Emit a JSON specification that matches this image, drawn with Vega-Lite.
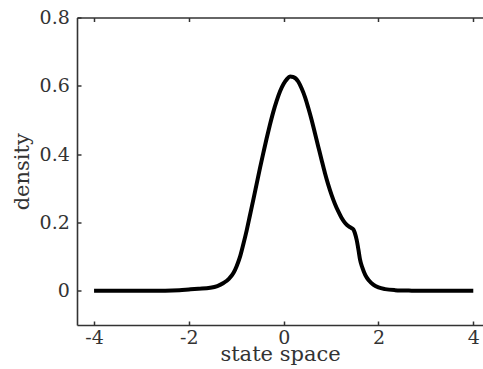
{
  "$schema": "https://vega.github.io/schema/vega-lite/v6.json",
  "autosize": {"type": "none"},
  "padding": {"left": 77, "top": 17.5, "right": 0, "bottom": 44},
  "width": 406,
  "height": 307.5,
  "background": "white",
  "config": {
    "view": {"stroke": null},
    "axis": {
      "grid": false,
      "domainColor": "#333333",
      "domainWidth": 1.6,
      "tickColor": "#333333",
      "tickWidth": 1.5,
      "tickSize": 4,
      "labelFont": "DejaVu Serif",
      "labelFontSize": 19,
      "labelColor": "#333333",
      "titleFont": "DejaVu Serif",
      "titleFontSize": 21,
      "titleFontWeight": "normal",
      "titleColor": "#333333"
    }
  },
  "data": {
    "values": [
      {"x": -4, "y": 0}, {"x": -3, "y": 0}, {"x": -2.5, "y": 0.0005}, {"x": -2.2, "y": 0.002},
      {"x": -2.0, "y": 0.004}, {"x": -1.8, "y": 0.006}, {"x": -1.55, "y": 0.009}, {"x": -1.4, "y": 0.014},
      {"x": -1.27, "y": 0.023}, {"x": -1.15, "y": 0.036}, {"x": -1.06, "y": 0.052}, {"x": -0.99, "y": 0.073},
      {"x": -0.92, "y": 0.1}, {"x": -0.85, "y": 0.137}, {"x": -0.78, "y": 0.177}, {"x": -0.71, "y": 0.222},
      {"x": -0.64, "y": 0.267}, {"x": -0.57, "y": 0.313}, {"x": -0.5, "y": 0.359}, {"x": -0.43, "y": 0.403},
      {"x": -0.36, "y": 0.446}, {"x": -0.29, "y": 0.486}, {"x": -0.22, "y": 0.523}, {"x": -0.15, "y": 0.555},
      {"x": -0.076, "y": 0.584}, {"x": 0, "y": 0.606}, {"x": 0.065, "y": 0.619}, {"x": 0.135, "y": 0.627},
      {"x": 0.2, "y": 0.626}, {"x": 0.31, "y": 0.612}, {"x": 0.38, "y": 0.592}, {"x": 0.45, "y": 0.567},
      {"x": 0.52, "y": 0.535}, {"x": 0.59, "y": 0.5}, {"x": 0.66, "y": 0.461}, {"x": 0.73, "y": 0.422},
      {"x": 0.8, "y": 0.383}, {"x": 0.87, "y": 0.345}, {"x": 0.94, "y": 0.311}, {"x": 1.01, "y": 0.281},
      {"x": 1.08, "y": 0.255}, {"x": 1.15, "y": 0.233}, {"x": 1.22, "y": 0.214}, {"x": 1.3, "y": 0.198},
      {"x": 1.38, "y": 0.188}, {"x": 1.44, "y": 0.183}, {"x": 1.47, "y": 0.18}, {"x": 1.5, "y": 0.17},
      {"x": 1.54, "y": 0.149}, {"x": 1.58, "y": 0.118}, {"x": 1.61, "y": 0.092}, {"x": 1.66, "y": 0.068},
      {"x": 1.72, "y": 0.047}, {"x": 1.8, "y": 0.03}, {"x": 1.89, "y": 0.018}, {"x": 2.0, "y": 0.01},
      {"x": 2.14, "y": 0.005}, {"x": 2.35, "y": 0.002}, {"x": 2.7, "y": 0.0005}, {"x": 3, "y": 0}, {"x": 4, "y": 0}
    ]
  },
  "resolve": {"axis": {"x": "independent", "y": "independent"}},
  "layer": [
    {
      "mark": {"type": "line", "color": "black", "strokeWidth": 4, "interpolate": "monotone", "clip": true},
      "encoding": {
        "x": {
          "field": "x", "type": "quantitative",
          "scale": {"domain": [-4.36, 4.205], "nice": false, "zero": false},
          "axis": {
            "orient": "bottom", "values": [-4, -2, 0, 2, 4], "title": "state space", "ticks": false,
            "labelPadding": 3.8, "labelFlush": false, "labelOverlap": false,
            "labelExpr": "replace(datum.label, '−', '-')",
            "titleBaseline": "alphabetic", "titleY": 35.5
          }
        },
        "y": {
          "field": "y", "type": "quantitative",
          "scale": {"domain": [-0.1, 0.8], "nice": false, "zero": false},
          "axis": {
            "orient": "left", "values": [0, 0.2, 0.4, 0.6, 0.8], "format": "~g", "title": "density", "ticks": false,
            "labelPadding": 7.7, "labelFlush": false, "labelOverlap": false,
            "titleBaseline": "alphabetic", "titleX": -49
          }
        }
      }
    },
    {
      "mark": {"type": "line", "opacity": 0},
      "encoding": {
        "x": {
          "field": "x", "type": "quantitative",
          "scale": {"domain": [-4.36, 4.205], "nice": false, "zero": false},
          "axis": {"orient": "bottom", "offset": -4, "values": [-4, -2, 0, 2, 4], "labels": false, "domain": false, "title": null}
        },
        "y": {
          "field": "y", "type": "quantitative",
          "axis": {"orient": "left", "offset": -4, "values": [0, 0.2, 0.4, 0.6, 0.8], "labels": false, "domain": false, "title": null}
        }
      }
    },
    {
      "mark": {"type": "line", "opacity": 0},
      "encoding": {
        "x": {
          "field": "x", "type": "quantitative",
          "scale": {"domain": [-4.36, 4.205], "nice": false, "zero": false},
          "axis": {"orient": "top", "values": [-4, -2, 0, 2, 4], "labels": false, "ticks": false, "title": null}
        },
        "y": {"field": "y", "type": "quantitative", "axis": null}
      }
    },
    {
      "mark": {"type": "line", "opacity": 0},
      "encoding": {
        "x": {
          "field": "x", "type": "quantitative",
          "scale": {"domain": [-4.36, 4.205], "nice": false, "zero": false},
          "axis": {"orient": "top", "offset": -4, "values": [-4, -2, 0, 2, 4], "labels": false, "domain": false, "title": null}
        },
        "y": {"field": "y", "type": "quantitative", "axis": null}
      }
    }
  ]
}
